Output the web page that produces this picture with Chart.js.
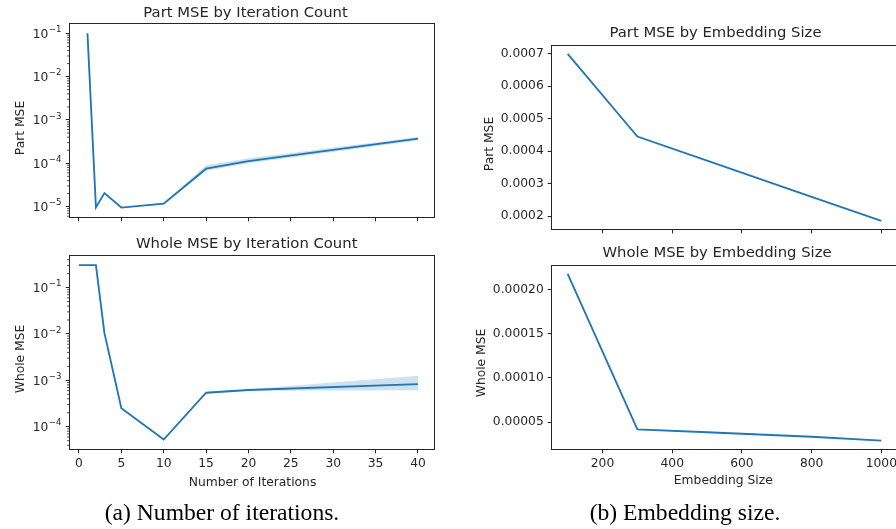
<!DOCTYPE html>
<html>
<head>
<meta charset="utf-8">
<script src="https://cdn.jsdelivr.net/npm/chart.js@4.4.1/dist/chart.umd.min.js"></script>
<style>
html, body { margin: 0; padding: 0; background: #fff; overflow: hidden; }
#stage { position: relative; width: 896px; height: 529px; overflow: hidden; }
#stage canvas { position: absolute; left: 0; top: 0; }
.caption {
    position: absolute;
    font-family: "Liberation Serif", "Times New Roman", serif;
    font-size: 23.6px;
    line-height: 1;
    color: #000;
    white-space: nowrap;
    transform: translateX(-50%);
}
</style>
</head>
<body>
<div id="stage">
    <canvas id="partIterChart" width="910" height="529"></canvas>
    <canvas id="wholeIterChart" width="910" height="529"></canvas>
    <canvas id="partEmbedChart" width="910" height="529"></canvas>
    <canvas id="wholeEmbedChart" width="910" height="529"></canvas>
    <div class="caption" style="left:222px; top:501px;">(a) Number of iterations.</div>
    <div class="caption" style="left:685px; top:501px;">(b) Embedding size.</div>
</div>
<script>
// Iteration sweep
const partIterations = [1, 2, 3, 5, 10, 15, 20, 40];
const partIterMSE  = [0.1, 9.6e-6, 2.05e-5, 9.5e-6, 1.17e-5, 7.5e-5, 1.12e-4, 3.7e-4];
const partIterLow  = [0.1, 9.6e-6, 2.05e-5, 9.5e-6, 1.12e-5, 6.7e-5, 1.0e-4, 3.35e-4];
const partIterHigh = [0.1, 9.6e-6, 2.05e-5, 9.5e-6, 1.22e-5, 9.0e-5, 1.3e-4, 4.05e-4];

const wholeIterations = [0, 1, 2, 3, 5, 10, 15, 20, 40];
const wholeIterMSE  = [0.305, 0.305, 0.305, 0.0105, 2.5e-4, 5.3e-5, 5.4e-4, 6.2e-4, 8.3e-4];
const wholeIterLow  = [0.305, 0.305, 0.305, 0.0105, 2.5e-4, 5.3e-5, 5.2e-4, 6.0e-4, 6.1e-4];
const wholeIterHigh = [0.305, 0.305, 0.305, 0.0105, 2.5e-4, 5.3e-5, 5.6e-4, 6.4e-4, 1.26e-3];

// Embedding size sweep
const embedSizes = [100, 300, 500, 800, 1000];
const partEmbedMSE = [0.000699, 0.000445, 0.000371, 0.000260, 0.000186];
const wholeEmbedMSE = [0.0002176, 0.0000417, 0.0000385, 0.0000334, 0.0000289];

// Tick values
const iterTicks = [0, 5, 10, 15, 20, 25, 30, 35, 40];
const embedTicks = [200, 400, 600, 800, 1000];
const partIterTicks = [1e-5, 1e-4, 1e-3, 1e-2, 1e-1];
const wholeIterTicks = [1e-4, 1e-3, 1e-2, 1e-1];
const partEmbedTicks = [0.0002, 0.0003, 0.0004, 0.0005, 0.0006, 0.0007];
const wholeEmbedTicks = [0.00005, 0.0001, 0.00015, 0.0002];

const BLUE = '#1f77b4';
const BAND = 'rgba(31, 119, 180, 0.22)';
const INK = '#262626';
const SANS = '"DejaVu Sans", Verdana, sans-serif';
const TICK_SIZE = 12.3;
const CANVAS_W = 910;
const CANVAS_H = 529;

function points(xs, ys) {
    return xs.map((x, i) => ({ x: x, y: ys[i] }));
}

// 10 with a raised exponent, right-aligned at x and centred on y
function drawPower(ctx, v, x, y) {
    const e = Math.round(Math.log10(v));
    const exp = (e < 0 ? '\u2212' : '') + Math.abs(e);
    const base = y + TICK_SIZE * 0.729 / 2;
    ctx.font = (TICK_SIZE * 0.7) + 'px ' + SANS;
    const ew = ctx.measureText(exp).width;
    ctx.textAlign = 'right';
    ctx.fillText(exp, x, base - TICK_SIZE * 0.48);
    ctx.font = TICK_SIZE + 'px ' + SANS;
    ctx.fillText('10', x - ew - 0.5, base);
}

// Axes frame, log tick labels and minor ticks, titles and axis labels
const panelDecor = {
    id: 'panelDecor',
    afterDraw(chart, args, opts) {
        const ctx = chart.ctx;
        const a = chart.chartArea;
        const y = chart.scales.y;
        ctx.save();
        ctx.strokeStyle = INK;
        ctx.lineWidth = 1;
        ctx.strokeRect(a.left - 0.5, a.top - 0.5, a.right - a.left + 1, a.bottom - a.top + 1);

        ctx.fillStyle = INK;
        ctx.textBaseline = 'alphabetic';

        if (y.type === 'logarithmic') {
            ctx.lineWidth = 0.8;
            ctx.beginPath();
            const lo = Math.floor(Math.log10(y.min));
            const hi = Math.ceil(Math.log10(y.max));
            for (let e = lo; e <= hi; e++) {
                for (let k = 2; k <= 9; k++) {
                    const v = k * Math.pow(10, e);
                    if (v < y.min || v > y.max) continue;
                    const py = y.getPixelForValue(v);
                    ctx.moveTo(a.left - 0.5, py);
                    ctx.lineTo(a.left - 3, py);
                }
            }
            ctx.stroke();
            y.ticks.forEach(t => drawPower(ctx, t.value, a.left - 8.5, y.getPixelForValue(t.value)));
        }

        ctx.textAlign = 'center';
        ctx.font = '14.8px ' + SANS;
        ctx.fillText(opts.title, opts.titleX, opts.titleY);

        ctx.font = TICK_SIZE + 'px ' + SANS;
        if (opts.xLabel) {
            ctx.fillText(opts.xLabel, opts.xLabelX, opts.xLabelY);
        }
        ctx.translate(opts.yLabelX, opts.yLabelY);
        ctx.rotate(-Math.PI / 2);
        ctx.fillText(opts.yLabel, 0, 0);
        ctx.restore();
    }
};

function tickFont() {
    return { family: SANS, size: TICK_SIZE };
}

function makePanel(id, p) {
    const area = p.area;
    const datasets = [];
    if (p.low) {
        datasets.push({
            data: points(p.xs, p.high), fill: '+1', backgroundColor: BAND,
            borderColor: 'rgba(0,0,0,0)', borderWidth: 0, pointRadius: 0, order: 2
        });
        datasets.push({
            data: points(p.xs, p.low), fill: false,
            borderColor: 'rgba(0,0,0,0)', borderWidth: 0, pointRadius: 0, order: 2
        });
    }
    datasets.push({
        data: points(p.xs, p.ys), fill: false, borderColor: BLUE, borderWidth: 1.85,
        pointRadius: 0, tension: 0, order: 0
    });

    return new Chart(document.getElementById(id), {
        type: 'line',
        data: { datasets: datasets },
        options: {
            responsive: false,
            animation: false,
            events: [],
            layout: { padding: { left: 0, top: area.top, right: CANVAS_W - area.right, bottom: 0 } },
            scales: {
                x: {
                    type: 'linear',
                    min: p.xMin,
                    max: p.xMax,
                    afterBuildTicks: s => { s.ticks = p.xTicks.map(v => ({ value: v })); },
                    afterFit: s => { s.height = CANVAS_H - area.bottom; },
                    grid: { drawOnChartArea: false, drawTicks: true, tickLength: 4.3, tickColor: INK, tickWidth: 1 },
                    border: { display: false },
                    ticks: {
                        color: INK, font: tickFont(), padding: 3, maxRotation: 0, autoSkip: false,
                        callback: v => p.xLabels ? String(v) : ''
                    }
                },
                y: {
                    type: p.log ? 'logarithmic' : 'linear',
                    min: p.yMin,
                    max: p.yMax,
                    afterBuildTicks: s => { s.ticks = p.yTicks.map(v => ({ value: v })); },
                    afterFit: s => { s.width = area.left; },
                    grid: { drawOnChartArea: false, drawTicks: true, tickLength: 4.3, tickColor: INK, tickWidth: 1 },
                    border: { display: false },
                    ticks: {
                        color: INK, font: tickFont(), padding: 4, autoSkip: false,
                        // log labels are drawn by panelDecor with a raised exponent
                        callback: p.log ? () => '' : p.yFormat
                    }
                }
            },
            plugins: {
                legend: { display: false },
                tooltip: { enabled: false },
                panelDecor: p.text
            }
        },
        plugins: [panelDecor]
    });
}

makePanel('partIterChart', {
    xs: partIterations, ys: partIterMSE, low: partIterLow, high: partIterHigh,
    area: { left: 70, top: 24, right: 434, bottom: 217 },
    xMin: -1.06, xMax: 41.89, xTicks: iterTicks, xLabels: false,
    log: true, yMin: Math.pow(10, -5.24), yMax: Math.pow(10, -0.785), yTicks: partIterTicks,
    text: { title: 'Part MSE by Iteration Count', titleX: 245.5, titleY: 16.8,
            yLabel: 'Part MSE', yLabelX: 23.5, yLabelY: 128 }
});

makePanel('wholeIterChart', {
    xs: wholeIterations, ys: wholeIterMSE, low: wholeIterLow, high: wholeIterHigh,
    area: { left: 70, top: 256, right: 434, bottom: 449 },
    xMin: -1.06, xMax: 41.89, xTicks: iterTicks, xLabels: true,
    log: true, yMin: Math.pow(10, -4.48), yMax: Math.pow(10, -0.32), yTicks: wholeIterTicks,
    text: { title: 'Whole MSE by Iteration Count', titleX: 246.7, titleY: 247.5,
            yLabel: 'Whole MSE', yLabelX: 23.5, yLabelY: 359,
            xLabel: 'Number of Iterations', xLabelX: 252.5, xLabelY: 485.7 }
});

makePanel('partEmbedChart', {
    xs: embedSizes, ys: partEmbedMSE,
    area: { left: 552, top: 46, right: 897, bottom: 229 },
    xMin: 55, xMax: 1045, xTicks: embedTicks, xLabels: false,
    log: false, yMin: 0.000161, yMax: 0.000723, yTicks: partEmbedTicks,
    yFormat: v => v.toFixed(4),
    text: { title: 'Part MSE by Embedding Size', titleX: 715.5, titleY: 37.4,
            yLabel: 'Part MSE', yLabelX: 492.8, yLabelY: 144 }
});

makePanel('wholeEmbedChart', {
    xs: embedSizes, ys: wholeEmbedMSE,
    area: { left: 552, top: 266, right: 897, bottom: 449 },
    xMin: 55, xMax: 1045, xTicks: embedTicks, xLabels: true,
    log: false, yMin: 0.0000195, yMax: 0.0002266, yTicks: wholeEmbedTicks,
    yFormat: v => v.toFixed(5),
    text: { title: 'Whole MSE by Embedding Size', titleX: 717, titleY: 257.4,
            yLabel: 'Whole MSE', yLabelX: 484.5, yLabelY: 363,
            xLabel: 'Embedding Size', xLabelX: 723.3, xLabelY: 484 }
});
</script>
</body>
</html>
